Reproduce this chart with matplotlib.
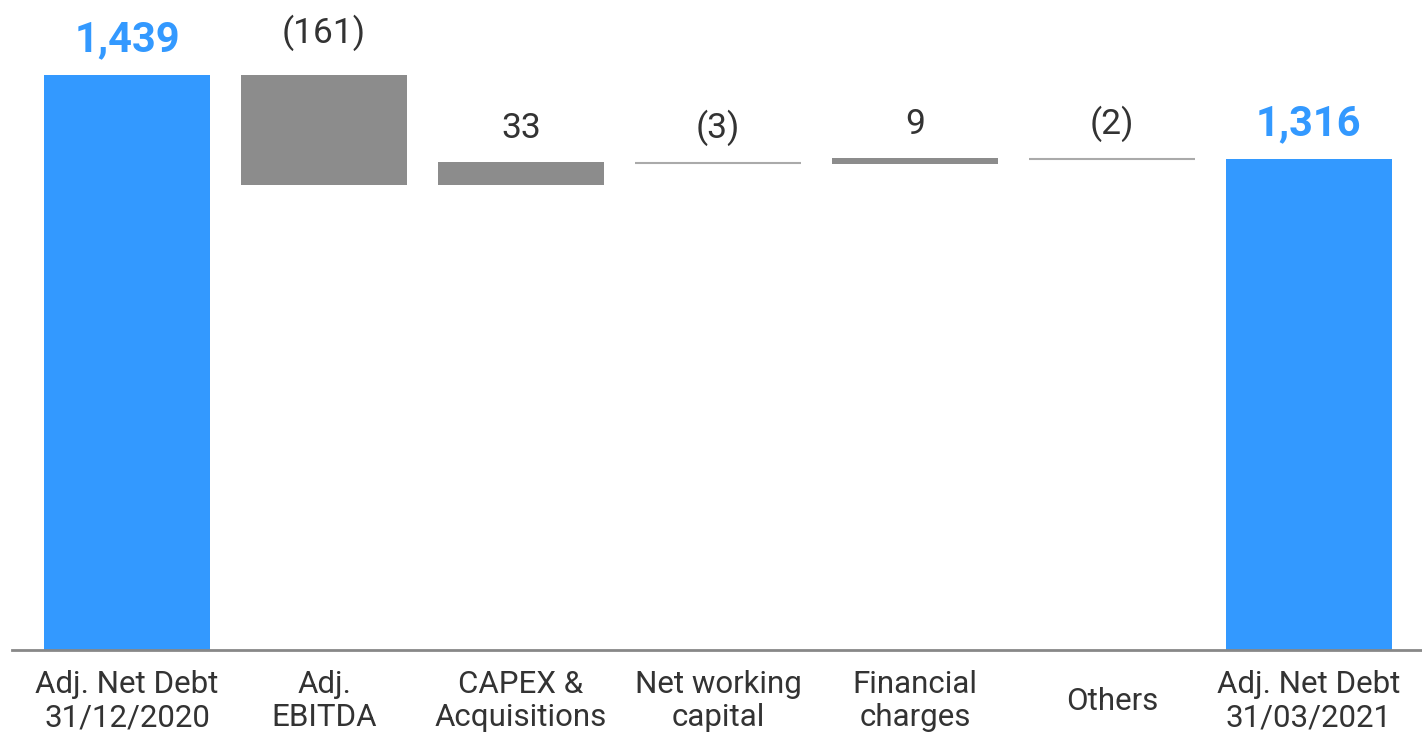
import matplotlib.pyplot as plt

# Data (EUR m)
categories = [
    "Adj. Net Debt\n31/12/2020",
    "Adj.\nEBITDA",
    "CAPEX &\nAcquisitions",
    "Net working\ncapital",
    "Financial\ncharges",
    "Others",
    "Adj. Net Debt\n31/03/2021",
]
start_value = 1439
end_value = 1316
steps = [-161, 33, -3, 9, -2]
value_labels = ["1,439", "(161)", "33", "(3)", "9", "(2)", "1,316"]

BLUE = "#3399FF"
GREY = "#8C8C8C"
TEXT = "#333333"

plt.rcParams["font.family"] = ["Roboto", "DejaVu Sans"]

fig = plt.figure(figsize=(14.22, 7.43), dpi=100)
ax = fig.add_axes([12 / 1422, 93 / 743, 1410 / 1422, 650 / 743])

y_min = 597
bottoms = [y_min]
heights = [start_value - y_min]
level = start_value
for s in steps:
    new_level = level + s
    bottoms.append(min(level, new_level))
    heights.append(abs(s))
    level = new_level
bottoms.append(y_min)
heights.append(end_value - y_min)

colors = [BLUE] + [GREY] * len(steps) + [BLUE]
x = list(range(len(categories)))
ax.bar(x, heights, bottom=bottoms, width=0.84, color=colors, linewidth=0)

# thin steps still visible as a hairline
for i, (b, h) in enumerate(zip(bottoms, heights)):
    if h < 5:
        ax.hlines(b + h / 2, i - 0.42, i + 0.42, color="#AAAAAA", lw=1.5)

for i, (b, h, lab) in enumerate(zip(bottoms, heights, value_labels)):
    top = b + h
    if i in (0, len(categories) - 1):
        ax.annotate(lab, (i, top), xytext=(0, 17), textcoords="offset points",
                    ha="center", va="baseline", fontsize=30, fontweight="bold",
                    color=BLUE)
    else:
        off = 23 if i == 1 else 17
        ax.annotate(lab, (i, top), xytext=(0, off), textcoords="offset points",
                    ha="center", va="baseline", fontsize=25.5, color=TEXT)

ax.set_xlim(-0.584, 6.574)
ax.set_ylim(y_min, 1548)
ax.set_xticks(x)
ax.set_xticklabels(categories, fontsize=22.5, color=TEXT, linespacing=1.17,
                   va="center")
ax.tick_params(axis="x", length=0, pad=37)
ax.set_yticks([])
for side in ["top", "right", "left"]:
    ax.spines[side].set_visible(False)
ax.spines["bottom"].set_color("#888888")
ax.spines["bottom"].set_linewidth(2)

fig.savefig("out.png", dpi=100)
